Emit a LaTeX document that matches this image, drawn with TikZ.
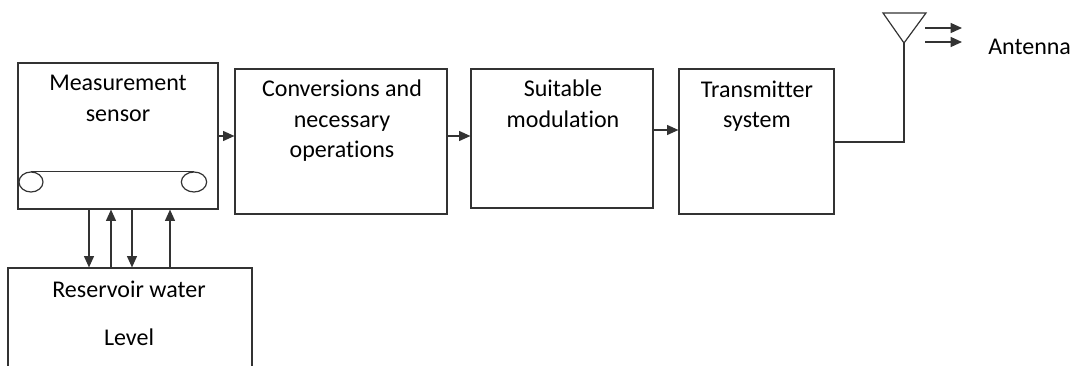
\documentclass[tikz,border=0pt]{standalone}
\usepackage{fontspec}
\setmainfont[Ligatures={NoCommon}]{Carlito}
\usetikzlibrary{arrows.meta,fit,shapes.geometric}
\begin{document}
\begin{tikzpicture}[x=0.75pt,y=-0.75pt,
  box/.style={draw=black!80, line width=0.9pt, inner sep=0pt},
  lbl/.style={anchor=base, inner sep=0pt, font=\fontsize{18pt}{21pt}\selectfont},
  ln/.style={draw=black!80, line width=0.9pt},
  arr/.style={ln, -{Triangle[length=8.5pt,width=7.5pt]}}]
\useasboundingbox (0,0) rectangle (1072,366);
% boxes
\node[box, fit={(18,63)(218,209)}] (sensor) {};
\node[box, fit={(8,268)(252,390)}] (res) {};
\node[box, fit={(235,69)(447,214)}] (conv) {};
\node[box, fit={(471,69)(653,208)}] (mod) {};
\node[box, fit={(679,69)(834,214)}] (trans) {};
% texts
\node[lbl] (s1) at (118,91) {Measurement};
\node[lbl] (s2) at (118,122) {sensor};
\node[lbl] (r1) at (129,298) {Reservoir water};
\node[lbl] (r2) at (129,346) {Level};
\node[lbl] (c1) at (342,97) {Conversions and};
\node[lbl] (c2) at (342,127.5) {necessary};
\node[lbl] (c3) at (342,158) {operations};
\node[lbl] (m1) at (563,97) {Suitable};
\node[lbl] (m2) at (563,127.5) {modulation};
\node[lbl] (t1) at (757,98) {Transmitter};
\node[lbl] (t2) at (757,128) {system};
\node[lbl, anchor=base west] (ant) at (988,55) {Antenna};
% rollers in sensor
\node[ln, ellipse, minimum width=18pt, minimum height=15pt, inner sep=0pt] (e1) at (31,182) {};
\node[ln, ellipse, minimum width=19pt, minimum height=15pt, inner sep=0pt] (e2) at (194,182) {};
\draw[ln] (e1.north) -- (e2.north);
% helper coordinates
\coordinate (y136) at (0,136);
\coordinate (y130) at (0,130);
\coordinate (y142) at (0,142);
\coordinate (xa) at (89,0);
\coordinate (xb) at (111,0);
\coordinate (xc) at (132,0);
\coordinate (xd) at (170,0);
% chain arrows
\draw[arr] (sensor.east |- y136) -- (conv.west |- y136);
\draw[arr] (conv.east |- y136) -- (mod.west |- y136);
\draw[arr] (mod.east |- y130) -- (trans.west |- y130);
% sensor <-> reservoir
\draw[arr] (sensor.south -| xa) -- (res.north -| xa);
\draw[arr] (res.north -| xb) -- (sensor.south -| xb);
\draw[arr] (sensor.south -| xc) -- (res.north -| xc);
\draw[arr] (res.north -| xd) -- (sensor.south -| xd);
% antenna
\coordinate (feed) at (904,43);
\coordinate (tl) at (883,13);
\coordinate (tr) at (926,13);
\draw[ln] (trans.east |- y142) -| (feed);
\draw[ln] (tl) -- (tr) -- (feed) -- cycle;
\coordinate (w1s) at (925,28);
\coordinate (w1e) at (962,28);
\coordinate (w2s) at (925,42);
\coordinate (w2e) at (962,42);
\draw[arr] (w1s) -- (w1e);
\draw[arr] (w2s) -- (w2e);
\end{tikzpicture}
\end{document}
